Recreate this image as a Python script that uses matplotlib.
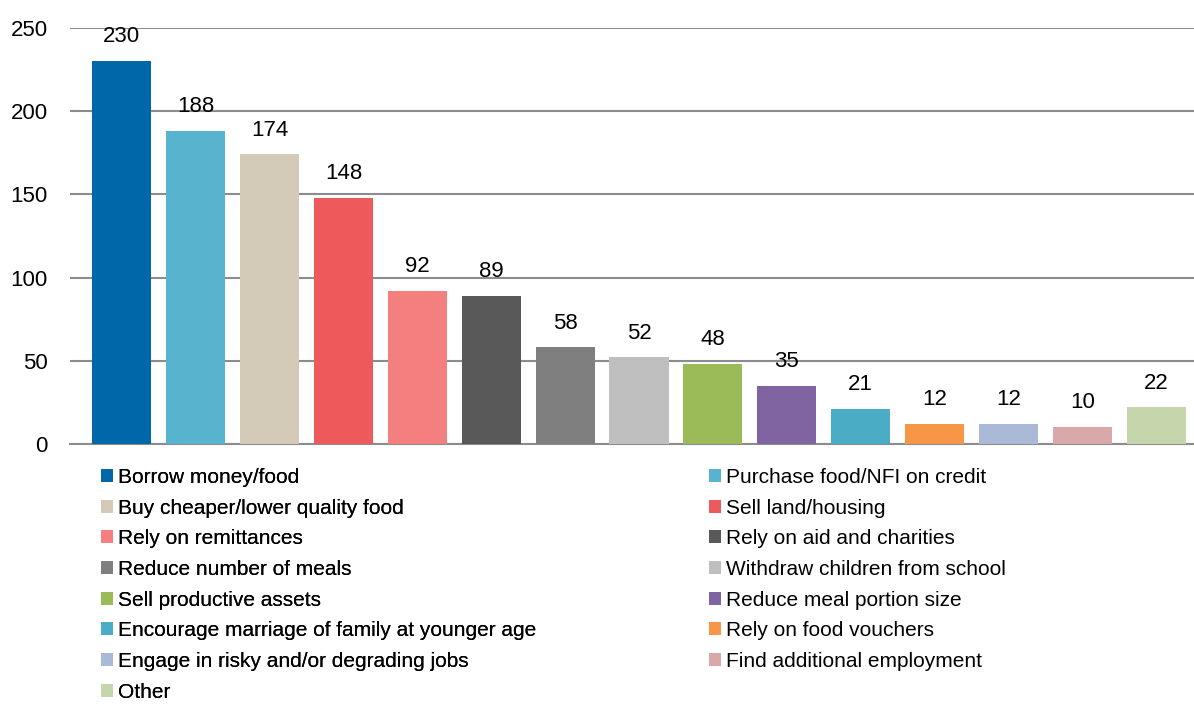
import matplotlib
matplotlib.use('Agg')
import matplotlib.pyplot as plt
from matplotlib.patches import Patch

plt.rcParams['font.family'] = ['Liberation Sans', 'DejaVu Sans']

strategies = [
    'Borrow money/food',
    'Purchase food/NFI on credit',
    'Buy cheaper/lower quality food',
    'Sell land/housing',
    'Rely on remittances',
    'Rely on aid and charities',
    'Reduce number of meals',
    'Withdraw children from school',
    'Sell productive assets',
    'Reduce meal portion size',
    'Encourage marriage of family at younger age',
    'Rely on food vouchers',
    'Engage in risky and/or degrading jobs',
    'Find additional employment',
    'Other',
]
counts = [230, 188, 174, 148, 92, 89, 58, 52, 48, 35, 21, 12, 12, 10, 22]
colors = ['#0067A8', '#57B3CE', '#D3CBB7', '#EE5A5B', '#F47F7F', '#595959',
          '#7F7F7F', '#BFBFBF', '#9BBB59', '#8064A2', '#4BACC6', '#F79646',
          '#AABAD6', '#D9A9A9', '#C6D6AC']
yticks = [0, 50, 100, 150, 200, 250]

W, H = 1194, 707
fig = plt.figure(figsize=(W / 100, H / 100), dpi=100)
ax = fig.add_axes([70 / W, 1 - 444 / H, 1 - 70 / W, (444 - 28) / H])

x = list(range(len(counts)))
ax.bar(x, counts, width=0.8, color=colors, zorder=3)
for xi, v in zip(x, counts):
    ax.annotate(str(v), (xi, v), xytext=(0, 10), textcoords='offset points',
                ha='center', va='bottom', fontsize=16, color='#000000')

ax.set_xlim(-0.70, len(counts) - 0.49)
ax.set_ylim(0, 250)
ax.set_yticks(yticks)
ax.set_xticks([])
ax.tick_params(axis='y', length=0, labelsize=16, pad=16)
ax.yaxis.grid(True, color='#8C8C8C', linewidth=1.5, zorder=0)
for s in ['top', 'right', 'left']:
    ax.spines[s].set_visible(False)
ax.spines['bottom'].set_color('#8C8C8C')
ax.spines['bottom'].set_linewidth(1.5)

handles = [Patch(facecolor=c, edgecolor='none') for c in colors]
leg_kw = dict(frameon=False, fontsize=15, handlelength=0.58, handleheight=0.58,
              handletextpad=0.22, labelspacing=0.56, borderpad=0, borderaxespad=0,
              loc='upper left')
left_idx = list(range(0, len(strategies), 2))
right_idx = list(range(1, len(strategies), 2))
leg1 = fig.legend([handles[i] for i in left_idx], [strategies[i] for i in left_idx],
                  bbox_to_anchor=(101 / W, 1 - 468 / H), **leg_kw)
fig.add_artist(leg1)
fig.legend([handles[i] for i in right_idx], [strategies[i] for i in right_idx],
           bbox_to_anchor=(709 / W, 1 - 468 / H), **leg_kw)

fig.savefig('out.png', dpi=100)
